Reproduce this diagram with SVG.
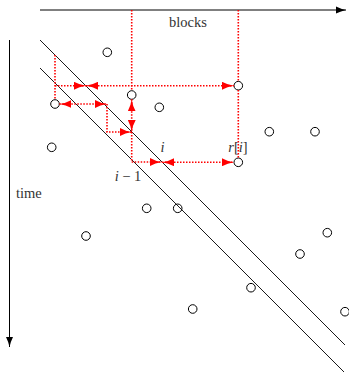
<svg xmlns="http://www.w3.org/2000/svg" width="349" height="373" viewBox="0 0 349 373">
<style>
.ax{stroke:#000;stroke-width:1;fill:none}
.dg{stroke:#000;stroke-width:0.9;fill:none}
.rd{stroke:#f00;stroke-width:1.6;stroke-dasharray:1.5 1.5;fill:none}
.pt{stroke:#000;stroke-width:1;fill:none}
.t{font-family:"Liberation Serif",serif;font-size:14.5px;fill:#333}
.ti{font-family:"Liberation Serif",serif;font-size:14.5px;font-style:italic;fill:#333}
</style>
<defs>
<marker id="ka" viewBox="0 0 10 8" refX="10" refY="4" markerWidth="10" markerHeight="8" markerUnits="userSpaceOnUse" orient="auto">
<path d="M0,0.5 Q5,3 10,4 Q5,5 0,7.5 Z" fill="#000"/>
</marker>
<marker id="ra" viewBox="0 0 12 8" refX="12" refY="4" markerWidth="12" markerHeight="8" markerUnits="userSpaceOnUse" orient="auto">
<path d="M0,0 Q5,3 12,4 Q5,5 0,8 Z" fill="#f00"/>
</marker>
<marker id="rs" viewBox="0 0 12 8" refX="0" refY="4" markerWidth="12" markerHeight="8" markerUnits="userSpaceOnUse" orient="auto">
<path d="M12,0 Q7,3 0,4 Q7,5 12,8 Z" fill="#f00"/>
</marker>
</defs>
<g id="axes">
<line class="ax" x1="40" y1="10" x2="346" y2="10" marker-end="url(#ka)"/>
<line class="ax" x1="9.5" y1="40" x2="9.5" y2="347" marker-end="url(#ka)"/>
<text class="t" x="188" y="27" text-anchor="middle">blocks</text>
<text class="t" x="16" y="198">time</text>
</g>
<g id="diagonals">
<line class="dg" x1="40" y1="40" x2="345" y2="345"/>
<line class="dg" x1="40" y1="68" x2="344" y2="372"/>
<text class="ti" x="162.5" y="152" text-anchor="middle">i</text>
<text class="ti" x="238" y="152" text-anchor="middle">r<tspan font-style="normal">[</tspan>i<tspan font-style="normal">]</tspan></text>
<text class="ti" x="128" y="181" text-anchor="middle">i<tspan font-style="normal"> − 1</tspan></text>
</g>
<g id="points">
<circle class="pt" cx="107.3" cy="52.3" r="4.3"/>
<circle class="pt" cx="131.7" cy="95" r="4.3"/>
<circle class="pt" cx="55" cy="104" r="4.3"/>
<circle class="pt" cx="159.3" cy="107.3" r="4.3"/>
<circle class="pt" cx="238.3" cy="85.7" r="4.3"/>
<circle class="pt" cx="238.3" cy="162.3" r="4.3"/>
<circle class="pt" cx="51.7" cy="147.3" r="4.3"/>
<circle class="pt" cx="269.3" cy="131.7" r="4.3"/>
<circle class="pt" cx="315" cy="131.7" r="4.3"/>
<circle class="pt" cx="146.7" cy="208.3" r="4.3"/>
<circle class="pt" cx="177.7" cy="208.3" r="4.3"/>
<circle class="pt" cx="86" cy="236" r="4.3"/>
<circle class="pt" cx="327.3" cy="232.7" r="4.3"/>
<circle class="pt" cx="300" cy="254" r="4.3"/>
<circle class="pt" cx="251" cy="287.7" r="4.3"/>
<circle class="pt" cx="192.7" cy="309" r="4.3"/>
<circle class="pt" cx="345" cy="311.7" r="4.3"/>
</g>
<g id="connectors">
<line class="rd" x1="131.7" y1="10" x2="131.7" y2="90.7"/>
<line class="rd" x1="131.7" y1="132" x2="131.7" y2="162"/>
<line class="rd" x1="238.3" y1="10" x2="238.3" y2="81.4"/>
<line class="rd" x1="238.3" y1="90" x2="238.3" y2="158"/>
<line class="rd" x1="55" y1="55" x2="55" y2="99.7"/>
<path class="rd" d="M55,85.7 H86" marker-end="url(#ra)"/>
<path class="rd" d="M86,85.7 H234" marker-start="url(#rs)" marker-end="url(#ra)"/>
<path class="rd" d="M59.3,104 H107" marker-start="url(#rs)" marker-end="url(#ra)"/>
<path class="rd" d="M107,104 V132 H132" marker-end="url(#ra)"/>
<path class="rd" d="M131.7,99.3 V132" marker-start="url(#rs)" marker-end="url(#ra)"/>
<path class="rd" d="M131.7,162 H162" marker-end="url(#ra)"/>
<path class="rd" d="M162,162.3 H234" marker-start="url(#rs)" marker-end="url(#ra)"/>
</g>
</svg>
